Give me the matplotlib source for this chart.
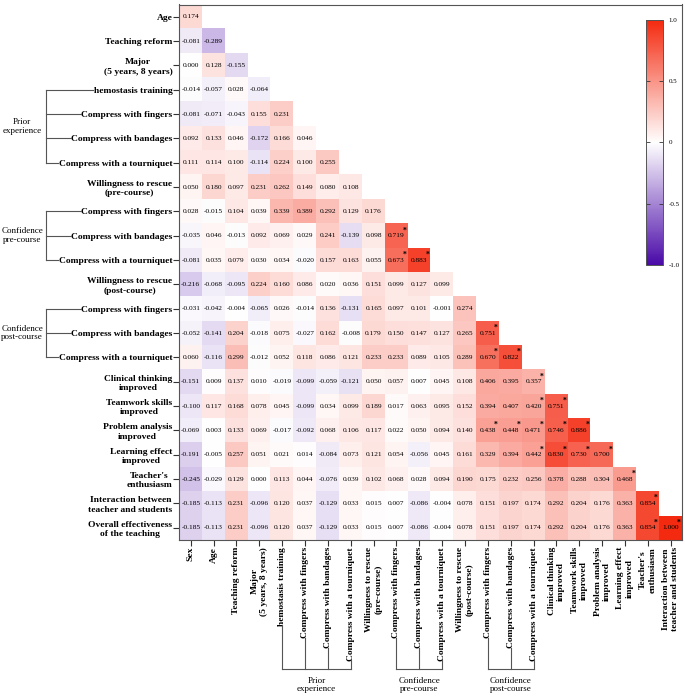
import numpy as np
import matplotlib
matplotlib.use("Agg")
import matplotlib.pyplot as plt
from matplotlib.colors import LinearSegmentedColormap
from matplotlib.lines import Line2D

plt.rcParams["font.family"] = ["Liberation Serif", "DejaVu Serif"]

# row variables (y axis), column variables are "Sex" + all but the last row
row_labels = [
    "Age", "Teaching reform", "Major\n(5 years, 8 years)", "hemostasis training",
    "Compress with fingers", "Compress with bandages", "Compress with a tourniquet",
    "Willingness to rescue\n(pre-course)",
    "Compress with fingers", "Compress with bandages", "Compress with a tourniquet",
    "Willingness to rescue\n(post-course)",
    "Compress with fingers", "Compress with bandages", "Compress with a tourniquet",
    "Clinical thinking\nimproved", "Teamwork skills\nimproved",
    "Problem analysis\nimproved", "Learning effect\nimproved",
    "Teacher's\nenthusiasm", "Interaction between\nteacher and students",
    "Overall effectiveness\nof the teaching",
]
col_labels = ["Sex"] + row_labels[:-1]

# lower triangle correlation values, one list per row
corr_rows = [
    [0.174],
    [-0.081, -0.289],
    [0.000, 0.128, -0.155],
    [-0.014, -0.057, 0.028, -0.064],
    [-0.081, -0.071, -0.043, 0.155, 0.231],
    [0.092, 0.133, 0.046, -0.172, 0.166, 0.046],
    [0.111, 0.114, 0.100, -0.114, 0.224, 0.100, 0.255],
    [0.050, 0.180, 0.097, 0.231, 0.262, 0.149, 0.080, 0.108],
    [0.028, -0.015, 0.104, 0.039, 0.339, 0.389, 0.292, 0.129, 0.176],
    [-0.035, 0.046, -0.013, 0.092, 0.069, 0.029, 0.241, -0.139, 0.098, 0.719],
    [-0.081, 0.035, 0.079, 0.030, 0.034, -0.020, 0.157, 0.163, 0.055, 0.673, 0.883],
    [-0.216, -0.068, -0.095, 0.224, 0.160, 0.086, 0.020, 0.036, 0.151, 0.099, 0.127, 0.099],
    [-0.031, -0.042, -0.004, -0.065, 0.026, -0.014, 0.136, -0.131, 0.165, 0.097, 0.101,
     -0.001, 0.274],
    [-0.052, -0.141, 0.204, -0.018, 0.075, -0.027, 0.162, -0.008, 0.179, 0.150, 0.147,
     0.127, 0.265, 0.751],
    [0.060, -0.116, 0.299, -0.012, 0.052, 0.118, 0.086, 0.121, 0.233, 0.233, 0.089,
     0.105, 0.289, 0.670, 0.822],
    [-0.151, 0.009, 0.137, 0.010, -0.019, -0.099, -0.059, -0.121, 0.050, 0.057, 0.007,
     0.045, 0.108, 0.406, 0.395, 0.357],
    [-0.100, 0.117, 0.168, 0.078, 0.045, -0.099, 0.034, 0.099, 0.189, 0.017, 0.063,
     0.095, 0.152, 0.394, 0.407, 0.420, 0.751],
    [-0.069, 0.003, 0.133, 0.069, -0.017, -0.092, 0.068, 0.106, 0.117, 0.022, 0.050,
     0.094, 0.140, 0.438, 0.448, 0.471, 0.746, 0.886],
    [-0.191, -0.005, 0.257, 0.051, 0.021, 0.014, -0.084, 0.073, 0.121, 0.054, -0.056,
     0.045, 0.161, 0.329, 0.394, 0.442, 0.830, 0.730, 0.700],
    [-0.245, -0.029, 0.129, 0.000, 0.113, 0.044, -0.076, 0.039, 0.102, 0.068, 0.028,
     0.094, 0.190, 0.175, 0.232, 0.256, 0.378, 0.288, 0.304, 0.468],
    [-0.185, -0.113, 0.231, -0.096, 0.120, 0.037, -0.129, 0.033, 0.015, 0.007, -0.086,
     -0.004, 0.078, 0.151, 0.197, 0.174, 0.292, 0.204, 0.176, 0.363, 0.854],
    [-0.185, -0.113, 0.231, -0.096, 0.120, 0.037, -0.129, 0.033, 0.015, 0.007, -0.086,
     -0.004, 0.078, 0.151, 0.197, 0.174, 0.292, 0.204, 0.176, 0.363, 0.854, 1.000],
]

# significant cells (row, col) marked with *
sig_cells = [
    (9, 9), (10, 9), (10, 10), (13, 13), (14, 13), (14, 14), (15, 15),
    (16, 15), (16, 16), (17, 13), (17, 14), (17, 15), (17, 16), (17, 17),
    (18, 15), (18, 16), (18, 17), (18, 18), (19, 19), (20, 20), (21, 20), (21, 21),
]

# groups: (text, first row, last row) on the y axis
left_groups = [
    ("Prior\nexperience", 3, 6),
    ("Confidence\npre-course", 8, 10),
    ("Confidence\npost-course", 12, 14),
]
# groups: (text, first col, last col) on the x axis
bottom_groups = [
    ("Prior\nexperience", 4, 7),
    ("Confidence\npre-course", 9, 11),
    ("Confidence\npost-course", 13, 15),
]

n = len(row_labels)
mat = np.full((n, n), np.nan)
for i, vals in enumerate(corr_rows):
    mat[i, :len(vals)] = vals
mat = np.ma.masked_invalid(mat)

cmap = LinearSegmentedColormap.from_list("pw", ["#4a0aa8", "#ffffff", "#f42a10"])

W, H = 685, 697
fig = plt.figure(figsize=(W / 100, H / 100), dpi=100)
ax = fig.add_axes([179.3 / W, 1 - 540 / H, (682.1 - 179.3) / W, (540 - 4.5) / H])

im = ax.imshow(mat, cmap=cmap, vmin=-1, vmax=1, aspect="auto", interpolation="nearest")
ax.set_xlim(-0.5, n - 0.5)
ax.set_ylim(n - 0.5, -0.5)

for i, vals in enumerate(corr_rows):
    for j, v in enumerate(vals):
        ax.text(j, i, f"{v:.3f}", ha="center", va="center", fontsize=5.3, color="black")
for i, j in sig_cells:
    ax.text(j + 0.36, i - 0.22, "*", ha="center", va="center", fontsize=5.5,
            color="black", fontweight="bold")

ax.set_xticks(range(n))
ax.set_yticks(range(n))
ax.set_xticklabels(col_labels, rotation=90, fontsize=6.8, fontweight="bold",
                   va="top", ha="center", multialignment="center")
ax.set_yticklabels(row_labels, fontsize=6.8, fontweight="bold",
                   multialignment="center")
ax.tick_params(length=4, pad=1, width=0.8, color="#333333")
for sp in ax.spines.values():
    sp.set_color("#555555")
    sp.set_linewidth(0.8)

# colorbar inside the frame, top right
cax = fig.add_axes([646 / W, 1 - 265 / H, 17 / W, 245 / H])
cb = fig.colorbar(im, cax=cax, ticks=[-1, -0.5, 0, 0.5, 1])
cb.ax.set_yticklabels(["-1.0", "-0.5", "0", "0.5", "1.0"], fontsize=5)
cb.ax.tick_params(direction="in", left=True, right=True, length=3, width=0.6,
                  color="#333333", pad=4)
cb.outline.set_edgecolor("#555555")
cb.outline.set_linewidth(0.7)

# bracket annotations
fig.canvas.draw()
renderer = fig.canvas.get_renderer()
lc = "#555555"


def add_line(xs, ys):
    fig.add_artist(Line2D([x / W for x in xs], [y / H for y in ys],
                          transform=fig.transFigure, color=lc, lw=0.8))


ylabs = ax.get_yticklabels()
x_br = 46
for text, i0, i1 in left_groups:
    ys = []
    for i in range(i0, i1 + 1):
        bb = ylabs[i].get_window_extent(renderer)
        y = ax.transData.transform((0, i))[1]
        add_line([x_br, bb.x0 - 0.5], [y, y])
        ys.append(y)
    add_line([x_br, x_br], [ys[0], ys[-1]])
    fig.text(22 / W, (ys[0] + ys[-1]) / 2 / H, text, ha="center", va="center",
             fontsize=6.5, linespacing=1.1)

xlabs = ax.get_xticklabels()
y_br = H - 669
for text, j0, j1 in bottom_groups:
    xs = []
    for j in range(j0, j1 + 1):
        bb = xlabs[j].get_window_extent(renderer)
        x = ax.transData.transform((j, 0))[0]
        add_line([x, x], [bb.y0 + 0.5, y_br])
        xs.append(x)
    add_line([xs[0], xs[-1]], [y_br, y_br])
    fig.text((xs[0] + xs[-1]) / 2 / W, (H - 685) / H, text, ha="center", va="center",
             fontsize=6.5, linespacing=1.1)

fig.savefig("out.png", dpi=100)
